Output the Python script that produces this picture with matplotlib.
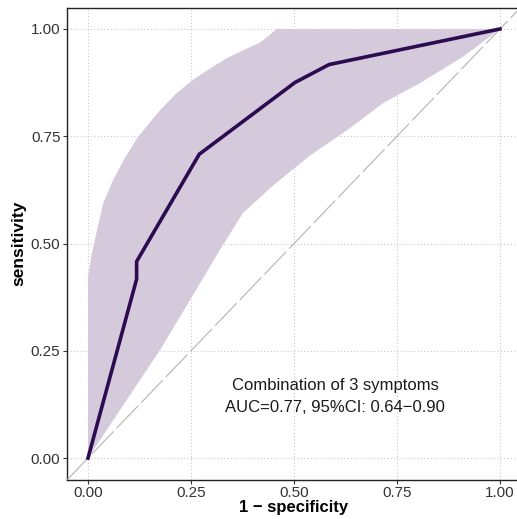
import matplotlib.pyplot as plt

plt.rcParams['font.family'] = ['Liberation Sans', 'DejaVu Sans']

# ROC curve (1 - specificity, sensitivity)
fpr = [0.0, 0.118, 0.118, 0.27, 0.502, 0.585, 1.0]
tpr = [0.0, 0.417, 0.458, 0.708, 0.875, 0.917, 1.0]

# confidence band edges
ci_up_x = [0.0, 0.0, 0.008, 0.017, 0.037, 0.061, 0.09, 0.121, 0.175, 0.215, 0.255, 0.3,
           0.337, 0.38, 0.417, 0.44, 0.458, 1.0]
ci_up_y = [0.0, 0.42, 0.47, 0.51, 0.594, 0.648, 0.70, 0.748, 0.811, 0.85, 0.882, 0.91,
           0.932, 0.952, 0.968, 0.985, 1.0, 1.0]
ci_lo_x = [0.0, 0.175, 0.255, 0.32, 0.376, 0.449, 0.539, 0.636, 0.716, 0.806, 0.91, 1.0]
ci_lo_y = [0.0, 0.252, 0.38, 0.485, 0.571, 0.635, 0.705, 0.769, 0.827, 0.874, 0.935, 1.0]

ticks = [0.0, 0.25, 0.5, 0.75, 1.0]
tick_labels = ["0.00", "0.25", "0.50", "0.75", "1.00"]

fig = plt.figure(figsize=(5.17, 5.19), dpi=100)
ax = fig.add_axes([67.4 / 517, 39.5 / 519, 453.2 / 517, 472 / 519])

# band polygon: up along upper edge, back along lower edge
poly_x = ci_up_x + ci_lo_x[::-1]
poly_y = ci_up_y + ci_lo_y[::-1]
ax.fill(poly_x, poly_y, color="#d4cadc", linewidth=0, zorder=2)

ax.plot([-0.05, 1.05], [-0.05, 1.05], color="#b4b4b4", lw=0.8,
        dashes=(28, 4), zorder=3)
ax.plot(fpr, tpr, color="#2d0b50", lw=2.6, zorder=4, solid_joinstyle="miter")

ax.text(0.60, 0.170, "Combination of 3 symptoms", ha="center", va="center",
        fontsize=12, color="#1a1a1a", zorder=5)
ax.text(0.60, 0.117, "AUC=0.77, 95%CI: 0.64\u22120.90", ha="center", va="center",
        fontsize=12, color="#1a1a1a", zorder=5)

ax.set_xlim(-0.05, 1.05)
ax.set_ylim(-0.05, 1.05)
ax.set_xticks(ticks)
ax.set_xticklabels(tick_labels)
ax.set_yticks(ticks)
ax.set_yticklabels(tick_labels)
ax.tick_params(labelsize=11, colors="#333333", length=3, width=0.8, pad=2)
ax.grid(True, color="#c8c8c8", linestyle=(0, (1, 2)), lw=0.8, zorder=0)
ax.set_axisbelow(True)
for s in ax.spines.values():
    s.set_color("#222222")
    s.set_linewidth(1.0)

ax.set_xlabel("1 \u2212 specificity", fontsize=12, fontweight="bold", labelpad=0)
ax.set_ylabel("sensitivity", fontsize=12.5, fontweight="bold", labelpad=3)

fig.savefig("out.png", dpi=100)
